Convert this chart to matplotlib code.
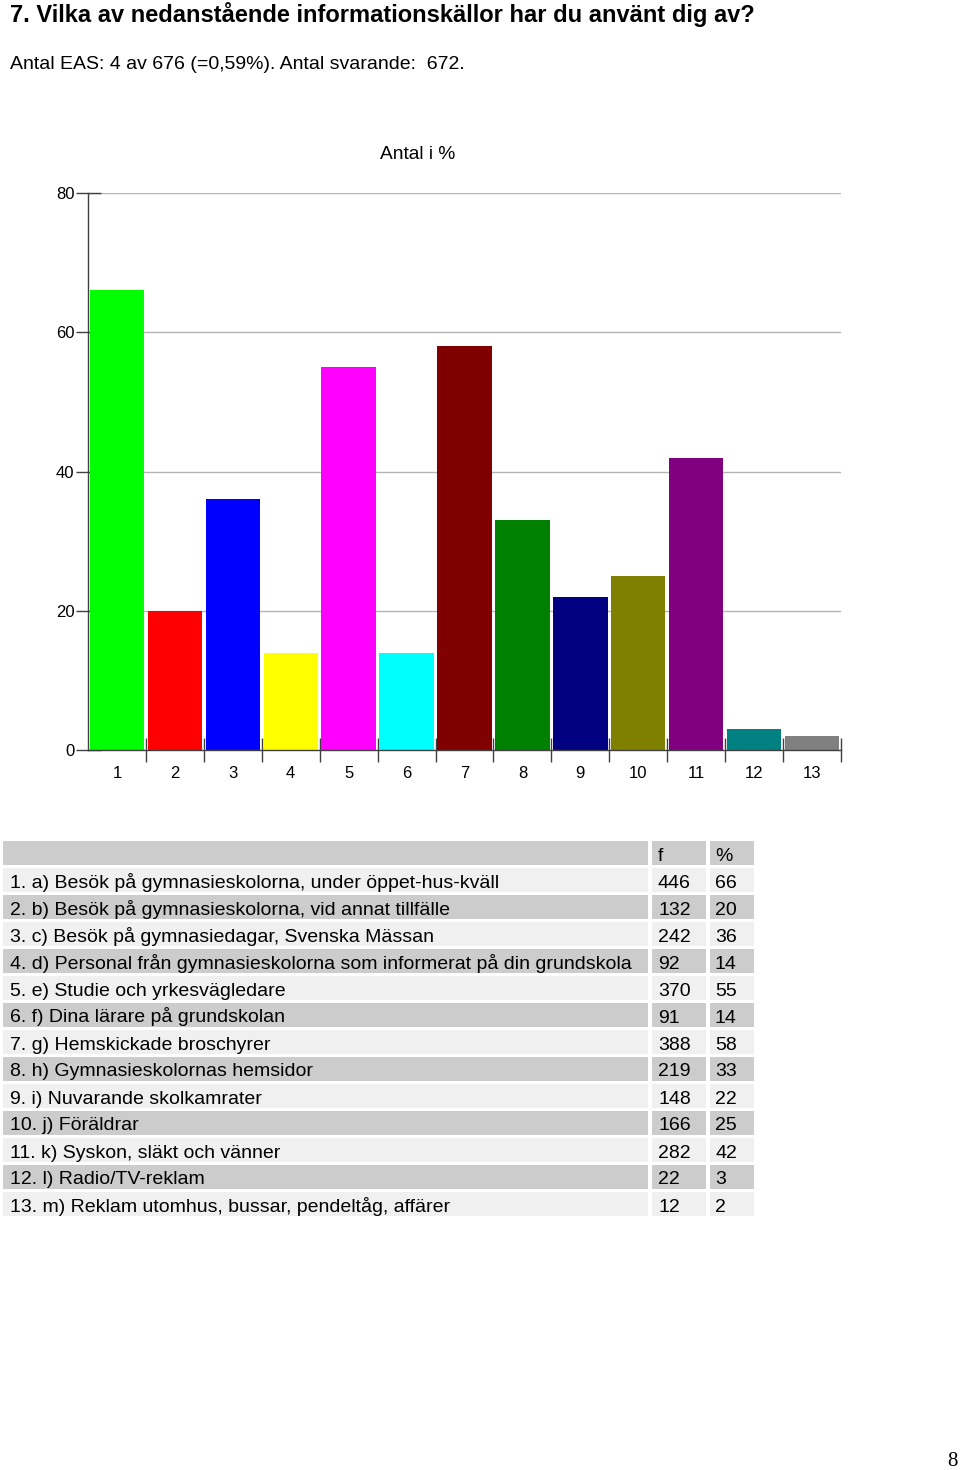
import numpy as np
import matplotlib
matplotlib.use('Agg')
import matplotlib.pyplot as plt
from matplotlib.patches import Rectangle

plt.rcParams['font.family'] = ['Liberation Sans', 'DejaVu Sans']

title = '7. Vilka av nedanstående informationskällor har du använt dig av?'
subtitle = 'Antal EAS: 4 av 676 (=0,59%). Antal svarande:  672.'
chart_title = 'Antal i %'

labels = [
    '1. a) Besök på gymnasieskolorna, under öppet-hus-kväll',
    '2. b) Besök på gymnasieskolorna, vid annat tillfälle',
    '3. c) Besök på gymnasiedagar, Svenska Mässan',
    '4. d) Personal från gymnasieskolorna som informerat på din grundskola',
    '5. e) Studie och yrkesvägledare',
    '6. f) Dina lärare på grundskolan',
    '7. g) Hemskickade broschyrer',
    '8. h) Gymnasieskolornas hemsidor',
    '9. i) Nuvarande skolkamrater',
    '10. j) Föräldrar',
    '11. k) Syskon, släkt och vänner',
    '12. l) Radio/TV-reklam',
    '13. m) Reklam utomhus, bussar, pendeltåg, affärer',
]
freq = [446, 132, 242, 92, 370, 91, 388, 219, 148, 166, 282, 22, 12]
pct = [66, 20, 36, 14, 55, 14, 58, 33, 22, 25, 42, 3, 2]
colors = ['#00ff00', '#ff0000', '#0000ff', '#ffff00', '#ff00ff', '#00ffff',
          '#800000', '#008000', '#000080', '#808000', '#800080', '#008080', '#808080']

W, H = 960, 1470
fig = plt.figure(figsize=(W / 100, H / 100), dpi=100)

# overlay in pixel coordinates for texts and the table
ov = fig.add_axes([0, 0, 1, 1])
ov.set_xlim(0, W)
ov.set_ylim(H, 0)
ov.axis('off')

ov.text(10, 14, title, fontsize=17, fontweight='bold', va='center', ha='left')
ov.text(10, 64, subtitle, fontsize=14, va='center', ha='left')
ov.text(418, 154, chart_title, fontsize=13.8, va='center', ha='center')
ov.text(952, 1461, '8', fontsize=15, va='center', ha='center', family='Liberation Serif')

# bar chart
x0, x1, ytop, ybot = 88, 841, 193, 750
ax = fig.add_axes([x0 / W, 1 - ybot / H, (x1 - x0) / W, (ybot - ytop) / H])
xs = np.arange(1, len(pct) + 1)
ax.bar(xs, pct, width=0.94, color=colors, zorder=3)
ax.set_xlim(0.5, len(pct) + 0.5)
ax.set_ylim(0, 80)
ax.set_yticks([0, 20, 40, 60, 80])
ax.yaxis.grid(True, color='#b4b4b4', linewidth=1, zorder=0)
for s in ['top', 'right']:
    ax.spines[s].set_visible(False)
for s in ['left', 'bottom']:
    ax.spines[s].set_color('#404040')
    ax.spines[s].set_linewidth(1)
    ax.spines[s].set_zorder(4)
ax.tick_params(axis='y', direction='inout', length=18, width=1, color='#404040',
               pad=0.7, labelsize=12)
ax.set_xticks(list(xs + 0.5))
ax.set_xticklabels([])
ax.set_xticks(xs, minor=True)
ax.set_xticklabels([str(v) for v in xs], minor=True)
ax.tick_params(axis='x', which='major', direction='inout', length=17.5, width=1,
               color='#404040')
ax.tick_params(axis='x', which='minor', length=0, pad=11.5, labelsize=12)

# table
row0 = 853
pitch = 27
cell_h = 24
cols = [(3, 648), (652, 706), (710, 754)]
text_x = [10, 658, 715]
gray = '#cccccc'
light = '#f0f0f0'


def draw_row(yc, cells, bg):
    for (a, b), tx, val in zip(cols, text_x, cells):
        ov.add_patch(Rectangle((a, yc - cell_h / 2), b - a, cell_h,
                               facecolor=bg, edgecolor='none'))
        ov.text(tx, yc + 7.5, val, fontsize=14, va='baseline', ha='left')


draw_row(row0, ['', 'f', '%'], gray)
for i, (lab, f, p) in enumerate(zip(labels, freq, pct)):
    bg = light if i % 2 == 0 else gray
    draw_row(row0 + pitch * (i + 1), [lab, str(f), str(p)], bg)

fig.savefig('out.png', dpi=100)
